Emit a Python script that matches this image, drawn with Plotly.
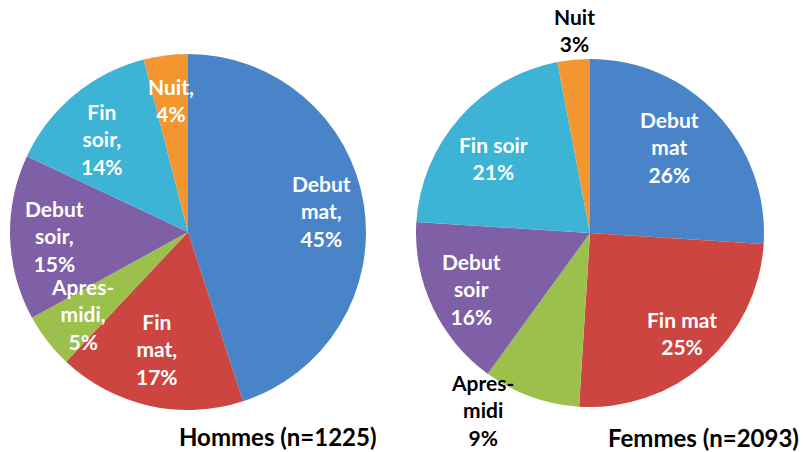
import math
import plotly.graph_objects as go

categories = ["Debut mat", "Fin mat", "Apres-midi", "Debut soir", "Fin soir", "Nuit"]
hommes_values = [45, 17, 5, 15, 14, 4]
femmes_values = [26, 25, 9, 16, 21, 3]
hommes_text = ["Debut<br>mat,", "Fin<br>mat,", "Apres-<br>midi,", "Debut<br>soir,", "Fin<br>soir,", "Nuit,"]
femmes_text = ["Debut<br>mat", "Fin mat", "Apres-<br>midi", "Debut<br>soir", "Fin soir", "Nuit"]
hommes_title = "Hommes (n=1225)"
femmes_title = "Femmes (n=2093)"

colors = ["#4a84c8", "#cc4541", "#9cc04c", "#7f60a6", "#3db4d6", "#f4962f"]
FONT = "Lato"
W, H = 803, 452

# pie geometry (pixels): centre x, centre y, radius
hommes_geom = (188, 232, 178)
femmes_geom = (590, 233, 174)

# label placement styles (radius factor, angle nudge in degrees, inside?)
hommes_lbl = [(0.76, 0, True), (0.68, 2, True), (0.75, 0, True),
              (0.75, 0, True), (0.71, -3, True), (0.75, 0, True)]
femmes_lbl = [(0.67, -4, True), (0.78, -1, True), (1.19, 11.5, False),
              (0.75, 0, True), (0.70, -3.5, True), (1.17, 1, False)]


def dom(g):
    cx, cy, r = g
    return dict(x=[(cx - r) / W, (cx + r) / W], y=[1 - (cy + r) / H, 1 - (cy - r) / H])


fig = go.Figure()
for vals, geom in ((hommes_values, hommes_geom), (femmes_values, femmes_geom)):
    fig.add_trace(go.Pie(
        labels=categories, values=vals,
        sort=False, direction="clockwise", rotation=0,
        marker=dict(colors=colors, line=dict(width=0)),
        textinfo="none", domain=dom(geom),
        showlegend=False, hoverinfo="label+percent",
    ))


def add_labels(vals, texts, geom, styles):
    cx, cy, r = geom
    total = sum(vals)
    cum = 0
    for v, t, (k, nudge, inside) in zip(vals, texts, styles):
        mid = (cum + v / 2) / total * 360 + nudge
        cum += v
        a = math.radians(mid)
        px = cx + k * r * math.sin(a)
        py = cy - k * r * math.cos(a)
        fig.add_annotation(
            text=f"{t}<br>{v}%", x=px / W, y=1 - py / H, xref="paper", yref="paper",
            xanchor="center", yanchor="middle", showarrow=False, align="center",
            font=dict(family=FONT, size=21, weight="bold",
                      color="white" if inside else "black"),
        )


add_labels(hommes_values, hommes_text, hommes_geom, hommes_lbl)
add_labels(femmes_values, femmes_text, femmes_geom, femmes_lbl)

fig.add_annotation(text=hommes_title, x=379 / W, y=1 - 436 / H, xref="paper", yref="paper",
                   xanchor="right", yanchor="middle", showarrow=False,
                   font=dict(family=FONT, size=24, color="black", weight="bold"))
fig.add_annotation(text=femmes_title, x=801 / W, y=1 - 437 / H, xref="paper", yref="paper",
                   xanchor="right", yanchor="middle", showarrow=False,
                   font=dict(family=FONT, size=24, color="black", weight="bold"))

fig.update_layout(
    width=W, height=H,
    margin=dict(l=0, r=0, t=0, b=0),
    paper_bgcolor="white", plot_bgcolor="white",
)

fig.write_html("out.html", config={"displayModeBar": False},
               post_script="document.body.style.margin='0';")
